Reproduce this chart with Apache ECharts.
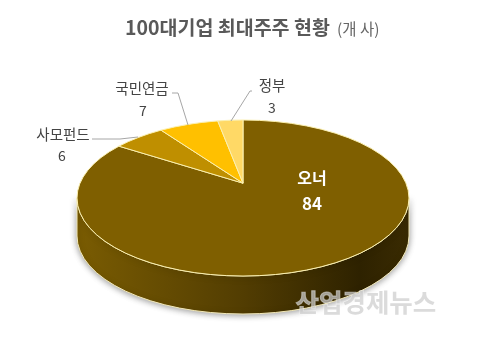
<!DOCTYPE html>
<html><head><meta charset="utf-8">
<style>html,body{margin:0;padding:0;background:#fff}#c{width:480px;height:357px}</style>
<script src="https://cdn.jsdelivr.net/npm/echarts@6/dist/echarts.min.js"></script>
</head><body><div id="c"></div>
<script>
const categories = ['오너','사모펀드','국민연금','정부'];
const values = [84,6,7,3];
const sliceColors = ['#7f5f00','#bf8f00','#ffc000','#ffd966'];

const FONT = '"Noto Sans CJK KR","Noto Sans",sans-serif';
const P = {cx:243, cy:198, rx:166, ry:78, depth:38, apex:0.19};
const total = values.reduce((a,b)=>a+b,0);

// Ray from the (perspective-shifted) apex to the rim
function rim(aDeg){
  const a=aDeg*Math.PI/180, dx=Math.sin(a), dy=-Math.cos(a), e=-P.apex;
  const b=e*dy, t=-b+Math.sqrt(b*b-(e*e-1));
  return [P.cx+P.rx*dx*t, P.cy+P.ry*(e+dy*t)];
}
function slicePath(a0,a1){
  const p=rim(a0), q=rim(a1), large=(a1-a0)>180?1:0;
  return `M${P.cx} ${P.cy-P.apex*P.ry}L${p[0]} ${p[1]}A${P.rx} ${P.ry} 0 ${large} 1 ${q[0]} ${q[1]}Z`;
}
const sidePath = ()=>{
  const l=P.cx-P.rx, r=P.cx+P.rx;
  return `M${l} ${P.cy}A${P.rx} ${P.ry} 0 0 0 ${r} ${P.cy}L${r} ${P.cy+P.depth}A${P.rx} ${P.ry} 0 0 1 ${l} ${P.cy+P.depth}Z`;
};
const labelLayout = [
  {name:[312,178], val:[312,204], nameStyle:{fill:'#fff',fontSize:16,fontWeight:'bold'}, valStyle:{fill:'#fff',fontSize:17,fontWeight:'bold',fontFamily:'"Liberation Sans Narrow","Noto Sans CJK KR"'}},
  {name:[63,134], val:[62,156], line:[[92,139],[120,139],[138,137]]},
  {name:[142,88], val:[143,111], line:[[172,93],[178,93],[188,125]]},
  {name:[272,85], val:[272,108], line:[[252,91],[250,91],[231,121]]}
];
const GRAD_SIDE = new echarts.graphic.LinearGradient(0,0,1,0,[
  {offset:0,color:'#7a5c02'},{offset:.5,color:'#523d02'},{offset:.85,color:'#2e2200'},{offset:1,color:'#3a2b02'}]);

function renderItem(params, api){
  const i=params.dataIndex, v=api.value(1);
  let start=0; for(let k=0;k<i;k++) start+=values[k];
  const a0=start/total*360, a1=(start+v)/total*360;
  const L=labelLayout[i], kids=[];
  if(i===0){
    kids.push({type:'path',shape:{pathData:sidePath()},
      style:{fill:GRAD_SIDE,stroke:'#f3e9b8',lineWidth:1,shadowBlur:6,shadowColor:'rgba(0,0,0,.4)',shadowOffsetX:0,shadowOffsetY:1},z2:1});
  }
  kids.push({type:'path',shape:{pathData:slicePath(a0,a1)},
    style:{fill:sliceColors[i],stroke:'#fbf0b0',lineWidth:1,lineJoin:'round'},z2:5});
  if(L.line){
    kids.push({type:'polyline',shape:{points:L.line},style:{fill:null,stroke:'#a6a6a6',lineWidth:1},z2:8});
  }
  const base={fill:'#444',fontSize:14.5,fontFamily:FONT,align:'center',verticalAlign:'middle'};
  kids.push({type:'text',x:L.name[0],y:L.name[1],style:Object.assign({},base,{text:api.value(0)},L.nameStyle||{}),z2:9});
  kids.push({type:'text',x:L.val[0],y:L.val[1],style:Object.assign({},base,{text:String(v),fontSize:14},L.valStyle||{}),z2:9});
  return {type:'group',children:kids};
}

const chart=echarts.init(document.getElementById('c'),null,{renderer:'canvas'});
chart.setOption({
  animation:false,
  backgroundColor:'#fff',
  tooltip:{show:false},
  xAxis:{show:false,type:'value',min:0,max:1},
  yAxis:{show:false,type:'value',min:0,max:1},
  graphic:[
    {type:'text',left:125,top:18,z:3,style:{text:'100대기업 최대주주 현황',fill:'#595959',fontSize:19.5,fontWeight:'bold',fontFamily:FONT}},
    {type:'text',left:337,top:21,z:3,style:{text:'(개 사)',fill:'#666',fontSize:15.5,fontFamily:FONT}},
    {type:'text',left:295,top:289,z:20,style:{text:'산업경제뉴스',fill:'rgba(205,205,205,.72)',stroke:'rgba(255,255,255,.5)',lineWidth:1,
      fontSize:25.5,fontWeight:'bold',fontFamily:FONT}}
  ],
  series:[{type:'custom',coordinateSystem:'none',silent:true,clip:false,
    renderItem,
    encode:{},
    data:categories.map((c,i)=>[c,values[i]])
  }]
});
</script></body></html>
